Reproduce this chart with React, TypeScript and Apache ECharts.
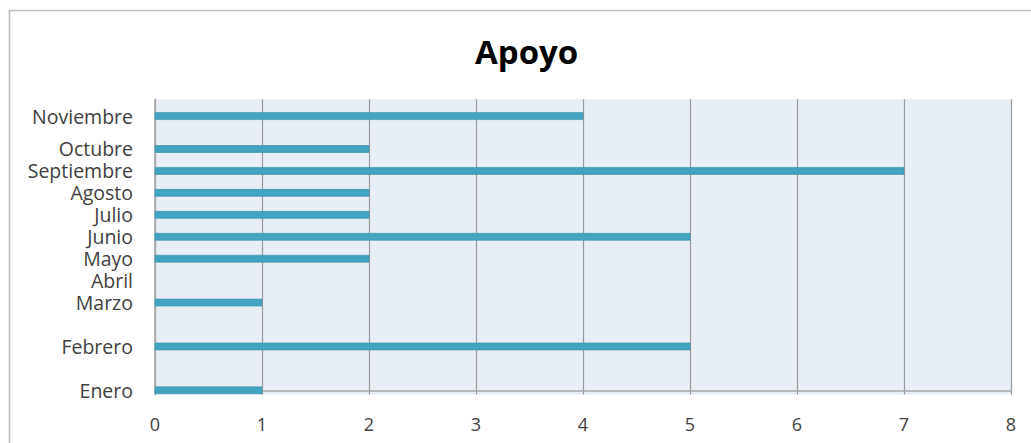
import React, { useEffect, useRef } from "react";
import * as echarts from "echarts";

const meses = ["Enero", "Febrero", "Marzo", "Abril", "Mayo", "Junio", "Julio", "Agosto", "Septiembre", "Octubre", "Noviembre"];
const posicion = [0, 2, 4, 5, 6, 7, 8, 9, 10, 11, 12.5];
const apoyo = [1, 5, 1, 0, 2, 5, 2, 2, 7, 2, 4];
const xTicks = [0, 1, 2, 3, 4, 5, 6, 7, 8];

export default function App() {
  const ref = useRef<HTMLDivElement>(null);
  useEffect(() => {
    if (!ref.current) return;
    const chart = echarts.init(ref.current, undefined, { renderer: "svg" });
    const data = meses.map((m, i) => [apoyo[i], posicion[i], m]);
    chart.setOption({
      animation: false,
      backgroundColor: "#ffffff",
      title: {
        text: "Apoyo",
        left: 470,
        top: 30,
        textStyle: { fontFamily: "Open Sans", fontWeight: "bold", fontSize: 33, color: "#000" },
      },
      graphic: [
        {
          type: "rect",
          shape: { x: 9.5, y: 10.5, width: 1100, height: 500 },
          style: { fill: "none", stroke: "#bdbdbd", lineWidth: 1.5 },
          silent: true,
        },
      ],
      grid: {
        left: 155,
        right: 20,
        top: 99.3,
        bottom: 48.5,
        show: true,
        backgroundColor: "#E8EEF5",
        borderWidth: 0,
      },
      xAxis: {
        type: "value",
        min: xTicks[0],
        max: xTicks[xTicks.length - 1],
        interval: 1,
        axisLine: { show: true, lineStyle: { color: "#a6a6a6", width: 1.5 } },
        axisTick: { show: false },
        splitLine: { show: true, lineStyle: { color: "#9a9a9a", width: 1.2 } },
        axisLabel: { margin: 20, fontFamily: "Open Sans", fontSize: 18, color: "#404040" },
      },
      yAxis: {
        type: "value",
        min: -0.19,
        max: 13.265,
        axisLine: { show: true, lineStyle: { color: "#a6a6a6", width: 1.5 } },
        axisTick: { show: false },
        splitLine: { show: false },
        axisLabel: {
          customValues: posicion,
          margin: 22,
          fontFamily: "Open Sans",
          fontSize: 19.5,
          lineHeight: 19,
          color: "#404040",
          formatter: (v: number) => {
            const i = posicion.indexOf(v);
            return i >= 0 ? meses[i] : "";
          },
        },
      },
      series: [
        {
          type: "custom",
          name: "Apoyo",
          encode: { x: 0, y: 1 },
          data,
          renderItem: (params: any, api: any) => {
            const val = api.value(0);
            if (!val) return null;
            const p0 = api.coord([0, api.value(1)]);
            const p1 = api.coord([val, api.value(1)]);
            return {
              type: "rect",
              shape: { x: p0[0], y: p0[1] - 3.5, width: p1[0] - p0[0], height: 7 },
              style: { fill: "#42A4C0", stroke: "#3590aa", lineWidth: 0.6 },
            };
          },
        },
      ],
    });
    return () => chart.dispose();
  }, []);
  return (
    <div
      ref={ref}
      style={{ position: "absolute", left: 0, top: 0, width: 1031, height: 443 }}
    />
  );
}
